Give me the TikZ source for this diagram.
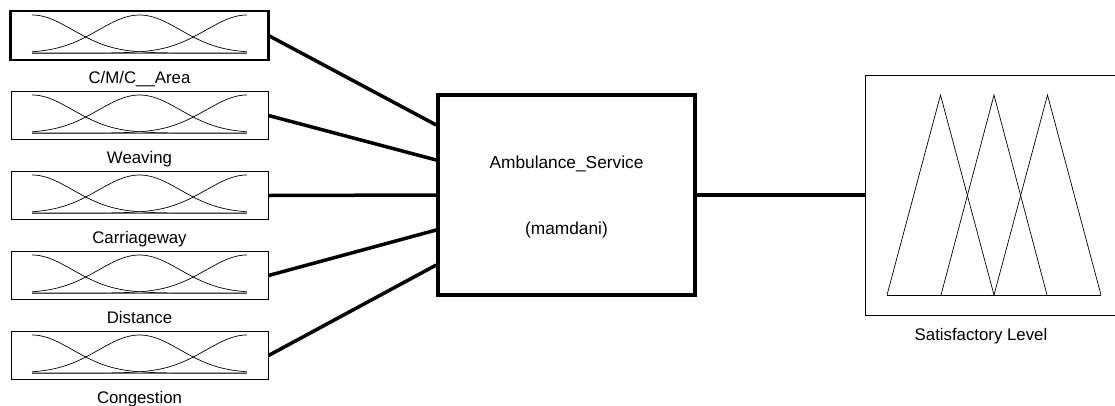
\documentclass[tikz,border=0pt]{standalone}
\usepackage{fontspec}
\setmainfont{Liberation Sans}
\begin{document}
\begin{tikzpicture}[x=1pt,y=-1pt,
  inbox/.style={draw, line width=1pt, minimum width=257pt, minimum height=48pt, inner sep=0pt},
  lbl/.style={anchor=base, inner sep=0pt, font=\fontsize{16.8}{18}\selectfont},
  conn/.style={line width=3.5pt},
  mf/.style={line width=0.7pt},
  base/.style={line width=0.9pt, black!55},
]
\useasboundingbox (0,0) rectangle (1115,405);
\clip (0,0) rectangle (1115,405);

% input boxes
\foreach \i/\t in {1/{C/M/C\_\_Area}, 2/Weaving, 3/Carriageway, 4/Distance, 5/Congestion}{
  \pgfmathsetmacro{\yc}{35.5+80*(\i-1)}
  \node[inbox] (in\i) at (139.5,\yc) {};
  \node[lbl] (lab\i) at (139.5,\yc+47.5) {\t};
  \draw[base] (32,\yc+17.5) -- (247,\yc+17.5);
  \draw[mf] plot[domain=0:1, samples=60, smooth] ({32+215*\x}, {\yc+17.5-38*exp(-(\x)^2/(2*0.19^2))});
  \draw[mf] plot[domain=0:1, samples=60, smooth] ({32+215*\x}, {\yc+17.5-38*exp(-(\x-0.5)^2/(2*0.19^2))});
  \draw[mf] plot[domain=0:1, samples=60, smooth] ({32+215*\x}, {\yc+17.5-38*exp(-(\x-1)^2/(2*0.19^2))});
}
\draw[line width=2.5pt] (in1.north west) rectangle (in1.south east);

% FIS box
\node[draw, line width=3.5pt, minimum width=257pt, minimum height=200pt, inner sep=0pt] (fis) at (566.5,195) {};
\node[anchor=base, inner sep=0pt, font=\fontsize{17.3}{19}\selectfont] (fisname) at (566.5,168) {Ambulance\_Service};
\node[anchor=base, inner sep=0pt, font=\fontsize{17.3}{19}\selectfont] (fistype) at (566.5,234) {(mamdani)};

% connectors
\draw[conn] (in1.east) -- ([yshift=70pt]fis.west);
\draw[conn] (in2.east) -- ([yshift=35pt]fis.west);
\draw[conn] (in3.east) -- (fis.west);
\draw[conn] (in4.east) -- ([yshift=-35pt]fis.west);
\draw[conn] (in5.east) -- ([yshift=-70pt]fis.west);

% output box
\node[draw, line width=1pt, minimum width=260pt, minimum height=240pt, inner sep=0pt] (out) at (995,195) {};
\draw[conn] (fis.east) -- (out.west);
\draw[mf] (887,295) -- (1101,295);
\draw[mf] (887,295) -- (940.5,95) -- (994,295);
\draw[mf] (941,295) -- (994,95) -- (1047,295);
\draw[mf] (994,295) -- (1047.5,95) -- (1101,295);
\node[lbl] (outlab) at (981,340) {Satisfactory Level};
\end{tikzpicture}
\end{document}
